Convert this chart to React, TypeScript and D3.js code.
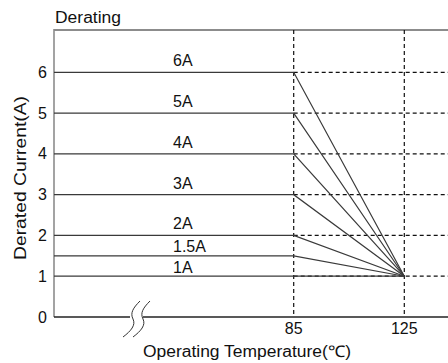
import React, { useEffect } from "react";
import * as d3 from "d3";

// derating curves: rated current held flat up to 85C, then falls to 1A at 125C
const ratings = [6, 5, 4, 3, 2, 1.5, 1];
const ratingLabels = ["6A", "5A", "4A", "3A", "2A", "1.5A", "1A"];
const yTicks = [0, 1, 2, 3, 4, 5, 6];
const xTicks = [85, 125];
const kneeTemp = 85;
const endTemp = 125;
const endCurrent = 1;

const W = 448, H = 363;
const left = 54, top = 30, bottom = 317;

export default function App() {
  useEffect(() => {
    document.body.style.margin = "0";
  }, []);

  const y = d3.scaleLinear().domain([0, 6]).range([bottom, 72.3]);
  const x = d3.scaleLinear().domain([85, 125]).range([293.7, 404.3]);
  const font = "'Liberation Sans', Arial, sans-serif";

  const sCurve = (dx: number) =>
    `M${140 + dx},301 C${133 + dx},308 ${130 + dx},313 ${133 + dx},319 S${131 + dx},331 ${123 + dx},337`;

  return (
    <svg width={W} height={H} style={{ display: "block" }} fontFamily={font}>
      <rect width={W} height={H} fill="#fff" />
      {/* frame */}
      <line x1={left} x2={W} y1={top} y2={top} stroke="#8c8c8c" strokeWidth={2} />
      <line x1={left} x2={left} y1={top - 1} y2={bottom} stroke="#8c8c8c" strokeWidth={1.6} />
      {/* bottom axis with break */}
      <line x1={left} x2={130} y1={bottom} y2={bottom} stroke="#222" strokeWidth={1.4} />
      <line x1={143} x2={W} y1={bottom} y2={bottom} stroke="#222" strokeWidth={1.4} />
      <path d={sCurve(0)} fill="none" stroke="#333" strokeWidth={1} />
      <path d={sCurve(10)} fill="none" stroke="#333" strokeWidth={1} />

      {/* dashed grid */}
      {xTicks.map((t) => (
        <line key={"vx" + t} x1={x(t)} x2={x(t)} y1={top} y2={bottom}
          stroke="#111" strokeWidth={1.2} strokeDasharray="4 3" />
      ))}
      {yTicks.filter((t) => t > 0).map((t) => (
        <line key={"hy" + t} x1={x(kneeTemp)} x2={W} y1={y(t)} y2={y(t)}
          stroke="#111" strokeWidth={1.2} strokeDasharray="4 3" />
      ))}

      {/* derating curves */}
      {ratings.map((r, i) => (
        <g key={"r" + r}>
          <path
            d={`M${left},${y(r)} H${x(kneeTemp)} L${x(endTemp)},${y(endCurrent)}`}
            fill="none" stroke="#3a3a3a" strokeWidth={1.2} />
          <text x={173} y={y(r) - (r < 2 ? (r < 1.5 ? 3 : 4) : 6)} fontSize={16} fill="#111">
            {ratingLabels[i]}
          </text>
        </g>
      ))}

      {/* tick labels */}
      {yTicks.map((t) => (
        <text key={"yt" + t} x={47} y={y(t) + 5.5} fontSize={16} textAnchor="end" fill="#111">{t}</text>
      ))}
      {xTicks.map((t) => (
        <text key={"xt" + t} x={x(t)} y={334} fontSize={16} textAnchor="middle" fill="#111">{t}</text>
      ))}

      {/* titles */}
      <text x={55} y={23} fontSize={16} fill="#111" textLength={66} lengthAdjust="spacingAndGlyphs">Derating</text>
      <text x={143} y={357} fontSize={16} fill="#111" textLength={208} lengthAdjust="spacingAndGlyphs">
        Operating Temperature(℃)
      </text>
      <text transform="translate(26,178) rotate(-90)" fontSize={16} textAnchor="middle" fill="#111"
        textLength={164} lengthAdjust="spacingAndGlyphs">Derated Current(A)</text>
    </svg>
  );
}
